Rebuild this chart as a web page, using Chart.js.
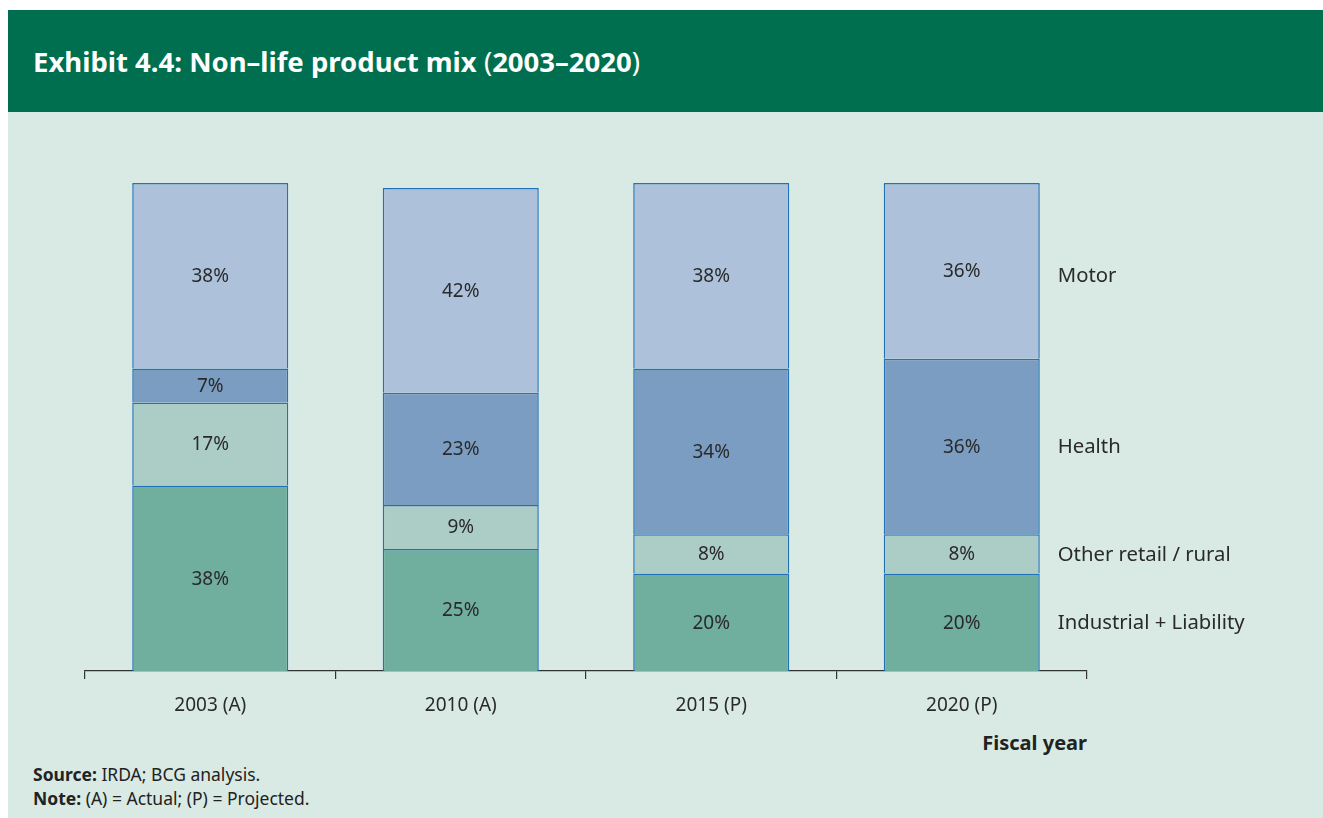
<!DOCTYPE html>
<html>
<head>
<meta charset="utf-8">
<script src="https://cdn.jsdelivr.net/npm/chart.js@4.4.1/dist/chart.umd.min.js"></script>
<style>
  html, body { margin:0; padding:0; background:#ffffff; width:1323px; height:818px; overflow:hidden; font-family:"Noto Sans", "Open Sans", sans-serif; }
  #header { position:absolute; left:8px; top:10px; width:1315px; height:102px; background:#006f50; }
  #title { position:absolute; left:33px; top:43px; color:#fff; font-size:27.5px; font-weight:bold; white-space:nowrap; letter-spacing:0px; }
  #title span { font-weight:normal; }
  #panel { position:absolute; left:8px; top:112px; width:1315px; height:706px; background:#d9eae4; }
  #wrap { position:absolute; left:0; top:0; width:1323px; height:818px; }
  .note { position:absolute; left:33px; font-size:17.5px; color:#222; white-space:nowrap; }
  #fy { position:absolute; right:236px; top:729px; font-size:20px; font-weight:bold; color:#222; }
</style>
</head>
<body>
<div id="header"></div>
<div id="title">Exhibit 4.4: Non–life product mix <span>(</span>2003–2020<span>)</span></div>
<div id="panel"></div>
<div id="fy">Fiscal year</div>
<div class="note" style="top:762px;"><b>Source:</b> IRDA; BCG analysis.</div>
<div class="note" style="top:786px;"><b>Note:</b> (A) = Actual; (P) = Projected.</div>
<div id="wrap"><canvas id="c" width="1323" height="818"></canvas></div>
<script>
const categories = ["2003 (A)", "2010 (A)", "2015 (P)", "2020 (P)"];
const seriesNames = ["Industrial + Liability", "Other retail / rural", "Health", "Motor"];
const industrial = [38, 25, 20, 20];
const otherRetail = [17, 9, 8, 8];
const health = [7, 23, 34, 36];
const motor = [38, 42, 38, 36];
const colors = ["#70ae9d", "#abcdc5", "#7b9dc2", "#adc1db"];

const FONT = "'Noto Sans', 'Open Sans', sans-serif";

const labelPlugin = {
  id: 'segLabels',
  afterDatasetsDraw(chart) {
    const ctx = chart.ctx;
    ctx.save();
    ctx.fillStyle = '#2a2a2a';
    ctx.textBaseline = 'middle';
    chart.data.datasets.forEach((ds, di) => {
      const meta = chart.getDatasetMeta(di);
      meta.data.forEach((el, i) => {
        const y = (el.y + el.base) / 2;
        ctx.font = '19px ' + FONT;
        ctx.textAlign = 'center';
        ctx.fillText(ds.data[i] + '%', el.x, y + 1);
        if (i === meta.data.length - 1) {
          ctx.font = '20.3px ' + FONT;
          ctx.textAlign = 'left';
          ctx.fillText(ds.label, el.x + 96, y + (di === 3 ? 5 : 1));
        }
      });
    });
    ctx.restore();
  }
};

const datasets = [industrial, otherRetail, health, motor].map((d, i) => ({
  label: seriesNames[i],
  data: d,
  backgroundColor: colors[i],
  borderColor: '#2272b8',
  borderWidth: { left: 1.5, right: 1.5, top: 1.5, bottom: 0 },
  borderSkipped: false,
  barPercentage: 0.623,
  categoryPercentage: 1.0
}));

new Chart(document.getElementById('c'), {
  type: 'bar',
  data: { labels: categories, datasets },
  options: {
    responsive: false,
    animation: false,
    layout: { padding: { left: 85, right: 236, top: 183, bottom: 0 } },
    plugins: { legend: { display: false }, tooltip: { enabled: false } },
    scales: {
      x: {
        stacked: true,
        grid: { offset: true, drawOnChartArea: false, drawTicks: true, tickLength: 8, color: '#333', lineWidth: 1.2 },
        border: { display: true, color: '#333', width: 1.2 },
        ticks: { color: '#2a2a2a', font: { size: 19, family: FONT }, padding: 15 },
        afterFit(scale) { scale.height = 147; }
      },
      y: {
        stacked: true,
        display: false,
        min: 0,
        max: 100
      }
    }
  },
  plugins: [labelPlugin]
});
</script>
</body>
</html>
